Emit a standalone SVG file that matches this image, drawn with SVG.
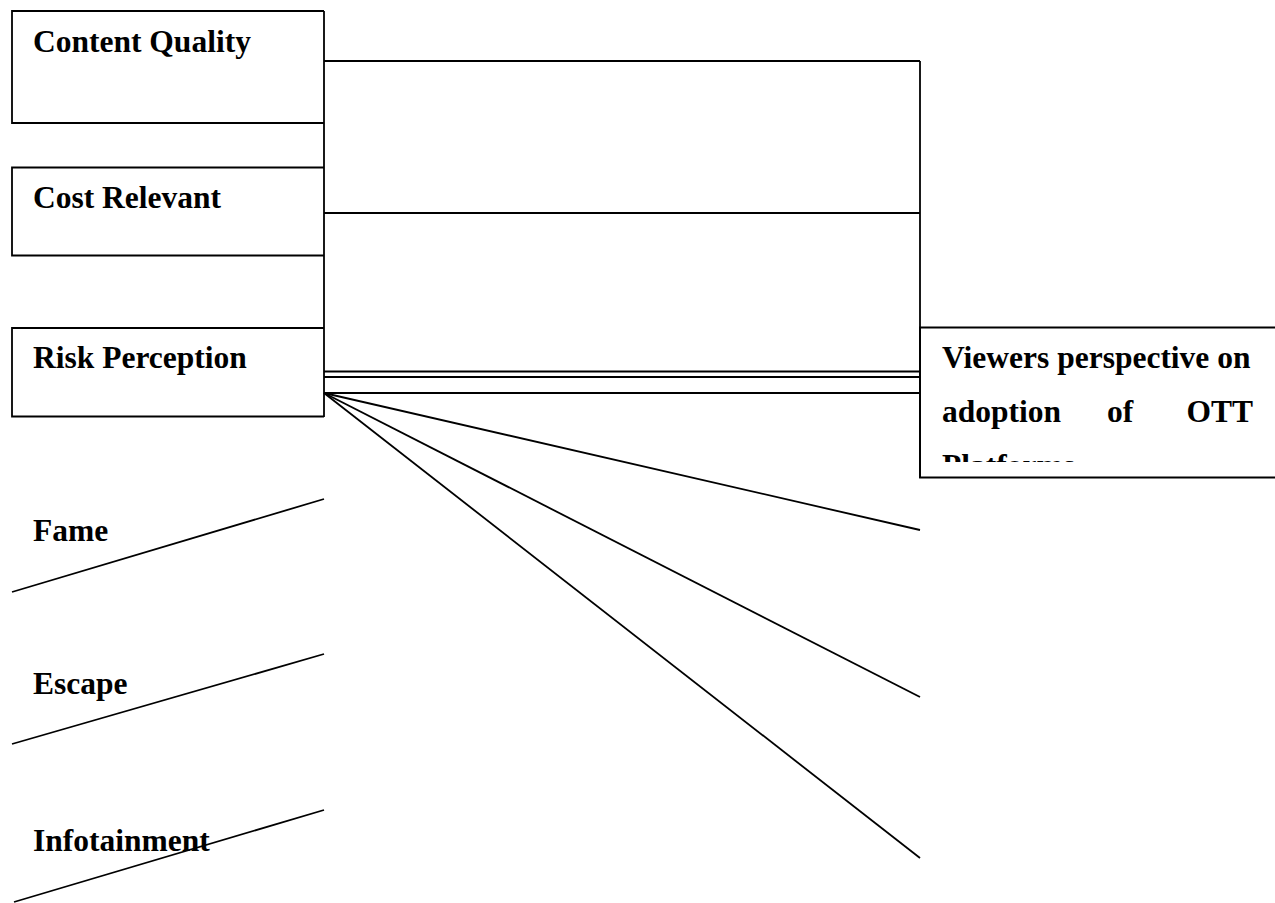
<svg xmlns="http://www.w3.org/2000/svg" width="1275" height="903" viewBox="0 0 1275 903">
<style>
.t{font-family:"Liberation Serif","Times New Roman",serif;font-weight:bold;font-size:31.5px;fill:#000}
.s{stroke:#000;stroke-width:1.8;fill:none}
</style>
<defs><clipPath id="cp"><rect x="920" y="327" width="355" height="135"/></clipPath></defs>
<rect width="1275" height="903" fill="#fff"/>
<g id="connectors" class="s">
<line x1="324" y1="11" x2="324" y2="417"/>
<line x1="324" y1="61" x2="920" y2="61"/>
<line x1="324" y1="213" x2="920" y2="213"/>
<line x1="324" y1="371.5" x2="920" y2="371.5"/>
<line x1="324" y1="377" x2="920" y2="377"/>
<line x1="324" y1="393" x2="920" y2="393"/>
<line x1="920" y1="61" x2="920" y2="478"/>
<line x1="324" y1="393" x2="920" y2="530"/>
<line x1="324" y1="393" x2="920" y2="697"/>
<line x1="324" y1="393" x2="920" y2="858"/>
</g>
<g id="content-quality">
<path class="s" d="M324 11H12V123H324"/>
<text class="t" x="33" y="52">Content Quality</text>
</g>
<g id="cost-relevant">
<path class="s" d="M324 167.5H12V255.5H324"/>
<text class="t" x="33" y="208">Cost Relevant</text>
</g>
<g id="risk-perception">
<path class="s" d="M324 328H12V416.5H324"/>
<text class="t" x="33" y="368">Risk Perception</text>
</g>
<g id="fame">
<line class="s" x1="12" y1="592" x2="324" y2="499"/>
<text class="t" x="33" y="541">Fame</text>
</g>
<g id="escape">
<line class="s" x1="12" y1="744" x2="324" y2="654"/>
<text class="t" x="33" y="694">Escape</text>
</g>
<g id="infotainment">
<line class="s" x1="14" y1="902" x2="324" y2="810"/>
<text class="t" x="33" y="851">Infotainment</text>
</g>
<g id="viewers">
<path class="s" d="M1275 327.5H920V477.5H1275"/>
<g clip-path="url(#cp)">
<text class="t" x="942" y="368">Viewers perspective on</text>
<text class="t" x="942" y="422">adoption</text>
<text class="t" x="1107" y="422">of</text>
<text class="t" x="1253" y="422" text-anchor="end">OTT</text>
<text class="t" x="942" y="476">Platforms</text>
</g>
</g>
</svg>
